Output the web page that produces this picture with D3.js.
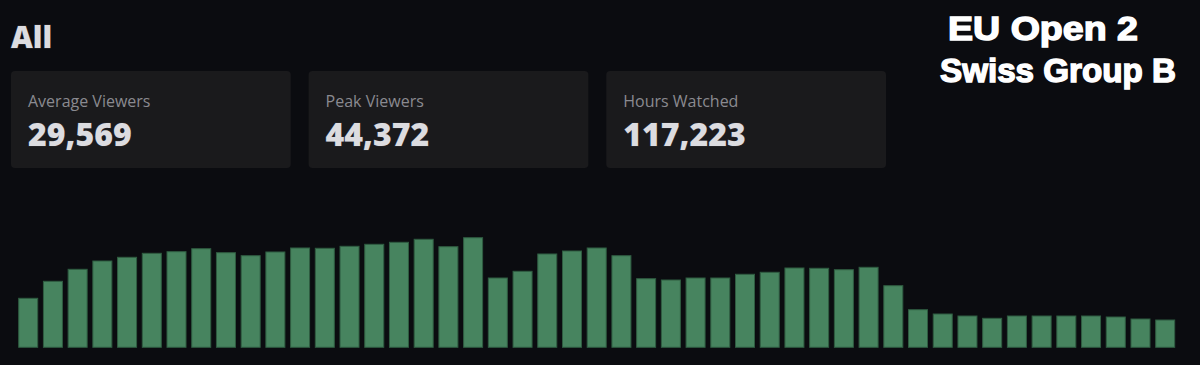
<!DOCTYPE html>
<html>
<head>
<meta charset="utf-8">
<script src="https://cdn.jsdelivr.net/npm/d3@7"></script>
<style>
    html, body { margin: 0; padding: 0; background: #0b0c10; }
    svg { display: block; }
</style>
</head>
<body>
<div id="chart"></div>
<script>
const width = 1200;
const height = 365;

// viewers per ~5 minute slot
const viewers = [
    19840, 26720, 31580, 34940, 36440, 38060, 38710, 39920, 38300, 37090,
    38590, 40210, 40090, 40890, 41700, 42510, 43730, 40730, 44372, 28060,
    30770, 37780, 38990, 40210, 37090, 27780, 27250, 28060, 28060, 29560,
    30370, 32110, 31990, 31420, 32390, 24940, 15220, 13480, 12670, 11740,
    12670, 12670, 12670, 12670, 12270, 11460, 11050
];
const statLabels = ["Average Viewers", "Peak Viewers", "Hours Watched"];
const statValues = ["29,569", "44,372", "117,223"];
const titleLines = ["EU Open 2", "Swiss Group B"];

const svg = d3.select("#chart")
    .append("svg")
    .attr("width", width)
    .attr("height", height);

svg.append("rect")
    .attr("width", width)
    .attr("height", height)
    .attr("fill", "#0b0c10");

// heading
svg.append("text")
    .attr("x", 11)
    .attr("y", 48)
    .attr("font-family", "'Open Sans', sans-serif")
    .attr("font-weight", 800)
    .attr("font-size", 30)
    .attr("fill", "#dcdce0")
    .attr("stroke", "#2a2a2e")
    .attr("stroke-width", 1)
    .attr("paint-order", "stroke")
    .text("All");

// stat cards
const cardX = d3.scaleBand()
    .domain(d3.range(statLabels.length))
    .range([11, 886])
    .paddingInner(0.06);

const cards = svg.selectAll("g.card")
    .data(statLabels)
    .enter()
    .append("g")
    .attr("class", "card")
    .attr("transform", (d, i) => `translate(${cardX(i)}, 71)`);

cards.append("rect")
    .attr("width", cardX.bandwidth())
    .attr("height", 97)
    .attr("rx", 4)
    .attr("fill", "#1a1a1c");

cards.append("text")
    .attr("x", 17)
    .attr("y", 36)
    .attr("font-family", "'Open Sans', sans-serif")
    .attr("font-size", 16)
    .attr("fill", "#8a8a90")
    .text(d => d);

cards.append("text")
    .attr("x", 17)
    .attr("y", 75)
    .attr("font-family", "'Open Sans', sans-serif")
    .attr("font-weight", 800)
    .attr("font-size", 32)
    .attr("fill", "#dcdce0")
    .attr("stroke", "#2a2a2e")
    .attr("stroke-width", 1)
    .attr("paint-order", "stroke")
    .text((d, i) => statValues[i]);

// overlay title, stretched to the width it has in the picture
const titleX = [948, 940];
const titleLen = [190, 236];
svg.selectAll("text.title")
    .data(titleLines)
    .enter()
    .append("text")
    .attr("class", "title")
    .attr("x", (d, i) => titleX[i])
    .attr("y", (d, i) => 40 + i * 42)
    .attr("textLength", (d, i) => titleLen[i])
    .attr("lengthAdjust", "spacingAndGlyphs")
    .attr("font-family", "'Liberation Sans', Arial, sans-serif")
    .attr("font-weight", 700)
    .attr("font-size", 33)
    .attr("fill", "#ffffff")
    .attr("stroke", "#ffffff")
    .attr("stroke-width", 1.4)
    .text(d => d);

// bars
const x = d3.scaleBand()
    .domain(d3.range(viewers.length))
    .range([18.7, 1174.7])
    .paddingInner(0.231)
    .paddingOuter(0);

const y = d3.scaleLinear()
    .domain([0, d3.max(viewers)])
    .range([347.3, 237.7]);

svg.append("g")
    .selectAll("rect")
    .data(viewers)
    .enter()
    .append("rect")
    .attr("x", (d, i) => x(i))
    .attr("y", d => y(d))
    .attr("width", x.bandwidth())
    .attr("height", d => y(0) - y(d))
    .attr("fill", "#47845f")
    .attr("stroke", "#2f5c41")
    .attr("stroke-width", 1);
</script>
</body>
</html>
